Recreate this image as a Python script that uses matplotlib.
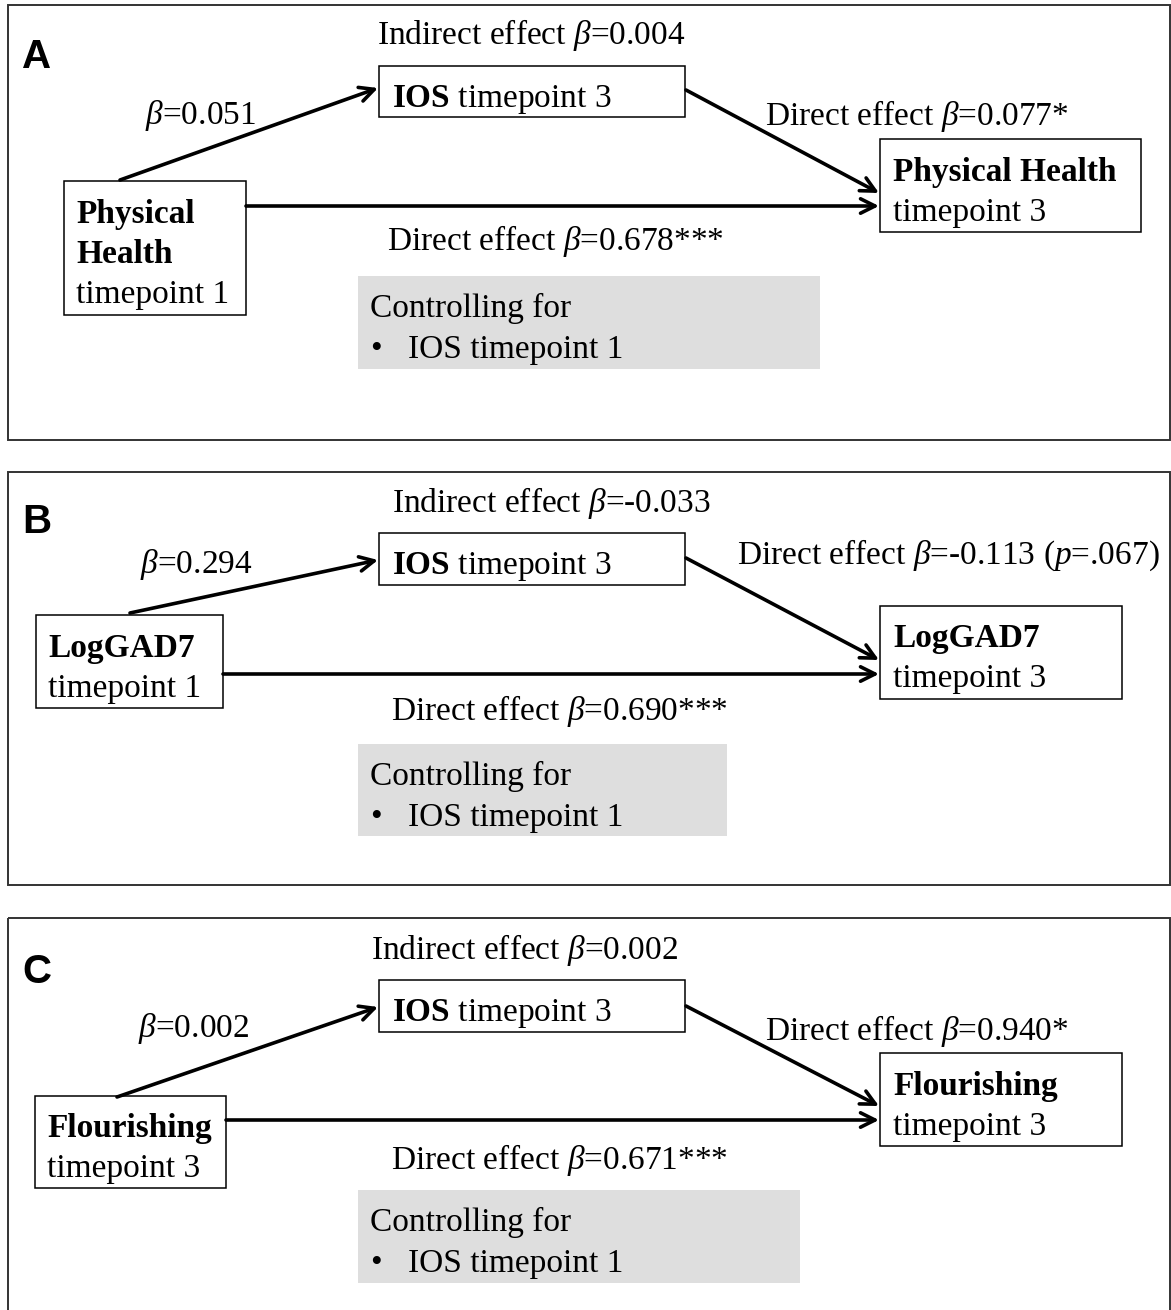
import matplotlib
matplotlib.use("Agg")
import matplotlib.pyplot as plt
from matplotlib.patches import Rectangle

plt.rcParams['font.family'] = ['Liberation Serif', 'DejaVu Serif']
plt.rcParams['mathtext.fontset'] = 'custom'
plt.rcParams['mathtext.rm'] = 'Liberation Serif'
plt.rcParams['mathtext.it'] = 'Liberation Serif:italic'
plt.rcParams['mathtext.bf'] = 'Liberation Serif:bold'

# ---- data ----
panel_letters = ['A', 'B', 'C']
predictor_lines = [['Physical', 'Health'], ['LogGAD7'], ['Flourishing']]
predictor_timepoints = ['timepoint 1', 'timepoint 1', 'timepoint 3']
outcome_names = ['Physical Health', 'LogGAD7', 'Flourishing']
outcome_timepoint = 'timepoint 3'
mediator_name = 'IOS'
mediator_timepoint = 'timepoint 3'
a_path = ['0.051', '0.294', '0.002']
b_path = ['0.077*', '-0.113', '0.940*']
b_path_p = ['', '.067', '']
c_path = ['0.678***', '0.690***', '0.671***']
indirect = ['0.004', '-0.033', '0.002']
covariate = 'IOS timepoint 1'

FS = 24
fig = plt.figure(figsize=(11.71, 13.10), dpi=100)
ax = fig.add_axes([0, 0, 1, 1])
ax.set_xlim(0, 1171)
ax.set_ylim(1310, 0)
ax.axis('off')

# layout per panel
panel_top = [5, 472, 918]
panel_bottom = [440, 885, 1330]
pred_box = [(64, 181, 182, 134), (36, 615, 187, 93), (35, 1096, 191, 92)]
out_box = [(880, 139, 261, 93), (880, 606, 242, 93), (880, 1053, 242, 93)]
med_box = [(379, 66, 306, 51), (379, 533, 306, 52), (379, 980, 306, 52)]
grey_box = [(358, 276, 462, 93), (358, 744, 369, 92), (358, 1190, 442, 93)]
a_start = [(120, 180), (130, 613), (117, 1097)]
a_end = [(378, 88), (378, 560), (378, 1007)]
b_start = [(686, 90), (686, 558), (686, 1006)]
b_end = [(879, 193), (879, 660), (879, 1106)]
c_y = [206, 674, 1120]
letter_base = [68, 533, 983]
indirect_x = [531, 551, 525]
indirect_base = [44, 512, 959]
a_lab = [(145, 124), (140, 573), (138, 1037)]
b_lab = [(765, 125), (737, 564), (765, 1040)]
c_lab = [(387, 250), (391, 720), (391, 1169)]

arrow_kw = dict(arrowstyle='->', lw=2.6, color='black', mutation_scale=26,
                shrinkA=0, shrinkB=0)

for i in range(3):
    # panel frame
    ax.add_patch(Rectangle((8, panel_top[i]), 1162, panel_bottom[i] - panel_top[i],
                           fill=False, ec='#333333', lw=1.4))
    ax.text(22, letter_base[i], panel_letters[i], family='Liberation Sans',
            fontweight='bold', fontsize=29, va='baseline', ha='left')

    # boxes
    for (x, y, w, h) in (pred_box[i], out_box[i], med_box[i]):
        ax.add_patch(Rectangle((x, y), w, h, fill=False, ec='black', lw=1.1))
    gx, gy, gw, gh = grey_box[i]
    ax.add_patch(Rectangle((gx, gy), gw, gh, fc='#dedede', ec='none'))

    # predictor text
    px, py, pw, ph = pred_box[i]
    lines = predictor_lines[i]
    n = len(lines) + 1
    first = py + ph / 2 - (n - 1) * 20 + 15
    for k, ln in enumerate(lines):
        ax.text(px + 12, first + 40 * k, ln, fontsize=FS, fontweight='bold',
                va='baseline', ha='left')
    ax.text(px + 12, first + 40 * (n - 1), predictor_timepoints[i], fontsize=FS,
            va='baseline', ha='left')

    # outcome text
    ox, oy, ow, oh = out_box[i]
    ax.text(ox + 13, oy + oh / 2 - 5, outcome_names[i], fontsize=FS,
            fontweight='bold', va='baseline', ha='left')
    ax.text(ox + 13, oy + oh / 2 + 35, outcome_timepoint, fontsize=FS,
            va='baseline', ha='left')

    # mediator text
    mx, my, mw, mh = med_box[i]
    ax.text(mx + 13, my + mh / 2 + 15,
            r'$\mathbf{' + mediator_name + r'}$ ' + mediator_timepoint,
            fontsize=FS, va='baseline', ha='left')

    # grey box text
    ax.text(gx + 12, gy + 41, 'Controlling for', fontsize=FS, va='baseline', ha='left')
    ax.text(gx + 12, gy + 82, '\u2022', fontsize=FS, va='baseline', ha='left')
    ax.text(gx + 50, gy + 82, covariate, fontsize=FS, va='baseline', ha='left')

    # arrows
    ax.annotate('', xy=a_end[i], xytext=a_start[i], arrowprops=arrow_kw)
    ax.annotate('', xy=b_end[i], xytext=b_start[i], arrowprops=arrow_kw)
    ax.annotate('', xy=(879, c_y[i]), xytext=(px + pw, c_y[i]), arrowprops=arrow_kw)

    # labels
    ax.text(indirect_x[i], indirect_base[i], r'Indirect effect $\beta$=' + indirect[i],
            fontsize=FS, va='baseline', ha='center')
    ax.text(a_lab[i][0], a_lab[i][1], r'$\beta$=' + a_path[i], fontsize=FS,
            va='baseline', ha='left')
    blabel = r'Direct effect $\beta$=' + b_path[i]
    if b_path_p[i]:
        blabel += r' ($p$=' + b_path_p[i] + ')'
    ax.text(b_lab[i][0], b_lab[i][1], blabel, fontsize=FS, va='baseline', ha='left')
    ax.text(c_lab[i][0], c_lab[i][1], r'Direct effect $\beta$=' + c_path[i],
            fontsize=FS, va='baseline', ha='left')

fig.savefig('out.png', dpi=100, facecolor='white')
